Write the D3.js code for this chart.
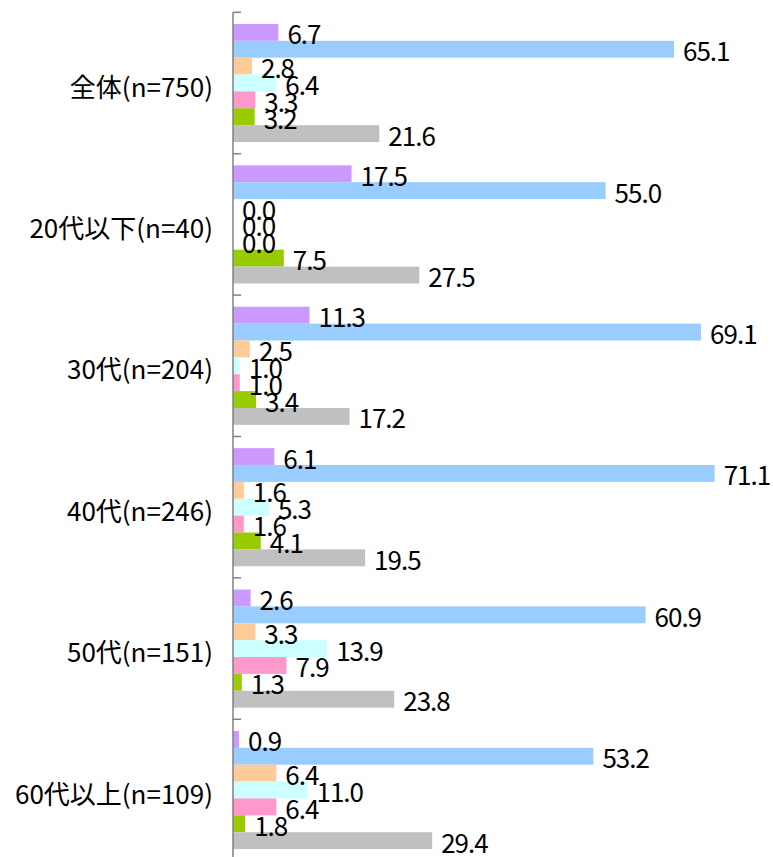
<!DOCTYPE html>
<meta charset="utf-8">
<style>
body { margin: 0; background: #fff; }
svg { display: block; }
.val { font-family: "Noto Sans CJK JP", sans-serif; font-size: 26px; letter-spacing: -1px; fill: #000; }
.cat { font-family: "Noto Sans CJK JP", sans-serif; font-size: 26px; fill: #000; }
</style>
<body>
<script src="https://cdn.jsdelivr.net/npm/d3@7"></script>
<script>

// categories (age groups)
var categories = ["全体(n=750)", "20代以下(n=40)", "30代(n=204)", "40代(n=246)", "50代(n=151)", "60代以上(n=109)"];

// seven series, one value per category (%)
var seriesNames = ["s1", "s2", "s3", "s4", "s5", "s6", "s7"];
var seriesColors = ["#cc99ff", "#99ccff", "#ffcc99", "#ccffff", "#ff99cc", "#99cc00", "#c0c0c0"];
var s1 = [6.7, 17.5, 11.3, 6.1, 2.6, 0.9];
var s2 = [65.1, 55.0, 69.1, 71.1, 60.9, 53.2];
var s3 = [2.8, 0.0, 2.5, 1.6, 3.3, 6.4];
var s4 = [6.4, 0.0, 1.0, 5.3, 13.9, 11.0];
var s5 = [3.3, 0.0, 1.0, 1.6, 7.9, 6.4];
var s6 = [3.2, 7.5, 3.4, 4.1, 1.3, 1.8];
var s7 = [21.6, 27.5, 17.2, 19.5, 23.8, 29.4];
var seriesValues = [s1, s2, s3, s4, s5, s6, s7];

var width = 773, height = 857;
var axisX = 233;

var svg = d3.select("body").append("svg")
    .attr("width", width)
    .attr("height", height);

// scales
var y0 = d3.scaleBand()
    .domain(categories)
    .range([12.3, 12.3 + 141.4 * 6])
    .padding(0);

var y1 = d3.scaleBand()
    .domain(seriesNames)
    .range([0, y0.bandwidth()])
    .paddingInner(0)
    .paddingOuter(0.69);

var x = d3.scaleLinear()
    .domain([0, 80])
    .range([axisX, axisX + 80 * 6.774]);

// flatten
var data = [];
categories.forEach(function(c, i) {
  seriesNames.forEach(function(s, j) {
    data.push({cat: c, series: s, color: seriesColors[j], value: seriesValues[j][i]});
  });
});

// bars
svg.selectAll(".bar")
    .data(data)
  .enter().append("rect")
    .attr("class", "bar")
    .attr("x", x(0))
    .attr("y", function(d) { return y0(d.cat) + y1(d.series); })
    .attr("width", function(d) { return x(d.value) - x(0); })
    .attr("height", y1.bandwidth())
    .style("fill", function(d) { return d.color; });

// value labels
svg.selectAll(".val")
    .data(data)
  .enter().append("text")
    .attr("class", "val")
    .attr("x", function(d) { return x(d.value) + 9; })
    .attr("y", function(d) { return y0(d.cat) + y1(d.series) + y1.bandwidth() / 2 + 12; })
    .text(function(d) { return d.value.toFixed(1); });

// axis line + boundary ticks
svg.append("line")
    .attr("x1", axisX).attr("x2", axisX)
    .attr("y1", y0.range()[0]).attr("y2", height)
    .attr("stroke", "#808080")
    .attr("stroke-width", 1.5);

var bounds = categories.map(function(c) { return y0(c); });
bounds.push(y0.range()[1]);
svg.selectAll(".tick")
    .data(bounds)
  .enter().append("line")
    .attr("class", "tick")
    .attr("x1", axisX).attr("x2", axisX + 8)
    .attr("y1", function(d) { return d; })
    .attr("y2", function(d) { return d; })
    .attr("stroke", "#808080")
    .attr("stroke-width", 1.5);

// category labels
svg.selectAll(".cat")
    .data(categories)
  .enter().append("text")
    .attr("class", "cat")
    .attr("x", 213)
    .attr("y", function(d) { return y0(d) + y0.bandwidth() / 2 + 2; })
    .attr("text-anchor", "end")
    .attr("dominant-baseline", "central")
    .text(function(d) { return d; });

</script>
</body>
